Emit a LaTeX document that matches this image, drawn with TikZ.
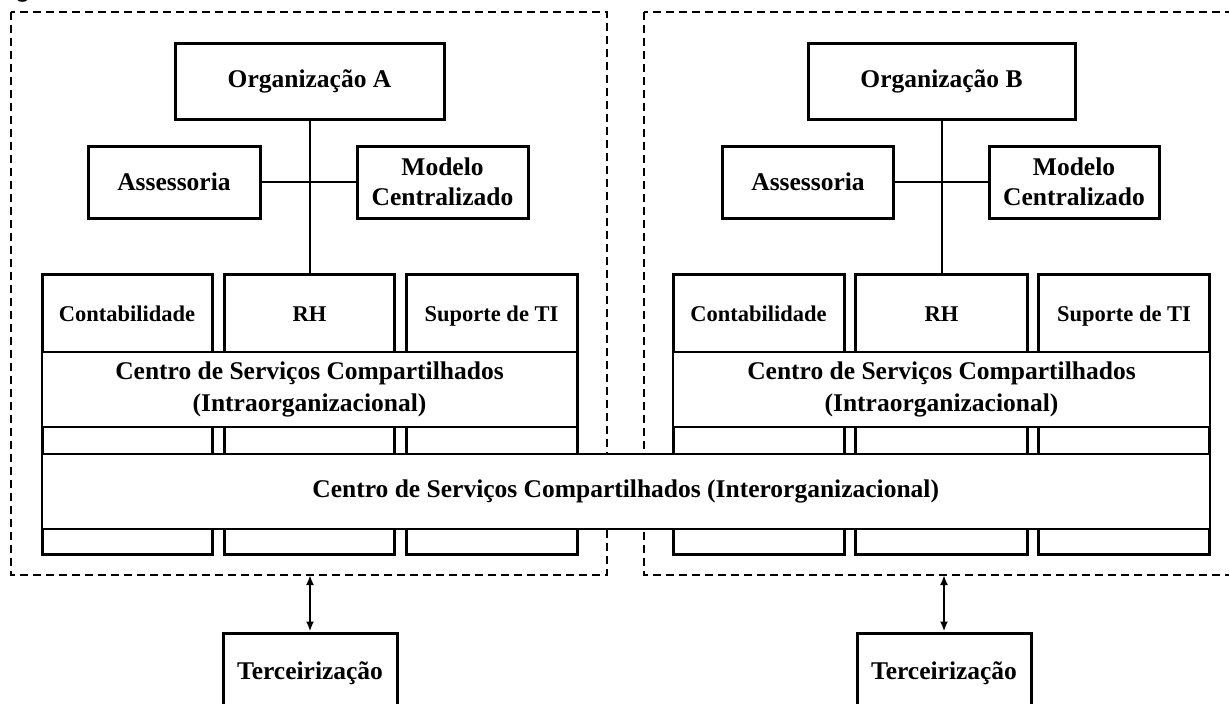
\documentclass[tikz,border=0pt]{standalone}
\usepackage{fontspec}
\setmainfont{Liberation Serif}
\newfontfamily\capfont{Carlito}
\usetikzlibrary{arrows.meta}

\tikzset{
	box/.style = {draw, line width=3pt, fill=white, align=center, inner sep=0pt, font=\bfseries\fontsize{25.5}{30}\selectfont},
	col/.style = {draw, line width=3pt, minimum width=170pt, minimum height=280pt, inner sep=0pt},
	coltext/.style = {anchor=base, inner sep=0pt, font=\bfseries\fontsize{22.5}{26}\selectfont},
	band/.style = {draw, line width=1.6pt, fill=white, minimum height=75pt, align=center, inner sep=0pt, font=\bfseries\fontsize{25.5}{32}\selectfont},
	region/.style = {line width=2pt, dash pattern=on 8pt off 5pt},
	link/.style = {line width=2pt},
	twoway/.style = {line width=2.6pt, {Latex[length=10pt,width=8pt]}-{Latex[length=10pt,width=8pt]}}
}

\begin{document}
\begin{tikzpicture}[x=1pt, y=-1pt]
		\useasboundingbox (0,0) rectangle (1229,704);
		\node[anchor=base west, inner sep=0pt, font=\capfont\fontsize{28}{28}\selectfont] (figcap) at (16,-2) {g};

		% the two organisations
		\draw[region] (11,12) rectangle (607,575);
		\draw[region] (644,12) rectangle (1240,575);

		% organisation A
		\node[box, minimum width=269pt, minimum height=76pt] (orgA) at (309.5,81) {Organização A};
		\node[box, minimum width=172pt, minimum height=72pt] (assA) at (174,182) {Assessoria};
		\node[box, minimum width=171pt, minimum height=72pt] (modA) at (442.5,182) {Modelo\\Centralizado};
		\node[col] (contA) at (127,414) {};
		\node[col] (rhA) at (309.5,414) {};
		\node[col, minimum width=171pt] (supA) at (491.5,414) {};
		\node[coltext] at ([yshift=-49pt]contA.north) {Contabilidade};
		\node[coltext] at ([yshift=-49pt]rhA.north) {RH};
		\node[coltext] at ([yshift=-49pt]supA.north) {Suporte de TI};
		\draw[link] (orgA.south) -- (rhA.north);
		\draw[link] (assA.east) -- (modA.west);
		\node[band, minimum width=535pt] (intraA) at (309.5,389.5) {Centro de Serviços Compartilhados\\(Intraorganizacional)};

		% organisation B
		\node[box, minimum width=267pt, minimum height=76pt] (orgB) at (941.5,81) {Organização B};
		\node[box, minimum width=171pt, minimum height=72pt] (assB) at (808,182) {Assessoria};
		\node[box, minimum width=170pt, minimum height=72pt] (modB) at (1074,182) {Modelo\\Centralizado};
		\node[col, minimum width=171pt] (contB) at (758.5,414) {};
		\node[col, minimum width=172pt] (rhB) at (941.5,414) {};
		\node[col, minimum width=171pt] (supB) at (1124,414) {};
		\node[coltext] at ([yshift=-49pt]contB.north) {Contabilidade};
		\node[coltext] at ([yshift=-49pt]rhB.north) {RH};
		\node[coltext] at ([yshift=-49pt]supB.north) {Suporte de TI};
		\draw[link] (orgB.south) -- (rhB.north);
		\draw[link] (assB.east) -- (modB.west);
		\node[band, minimum width=536pt] (intraB) at (941.5,389.5) {Centro de Serviços Compartilhados\\(Intraorganizacional)};

		% shared between both
		\node[band, minimum width=1167.5pt] (inter) at (625.75,491.5) {Centro de Serviços Compartilhados (Interorganizacional)};

		% outsourcing
		\node[box, minimum width=174pt, minimum height=80pt] (terA) at (310,673) {Terceirização};
		\node[box, minimum width=174pt, minimum height=80pt] (terB) at (944,673) {Terceirização};
		\coordinate (outA) at (310,575);
		\coordinate (outB) at (944,575);
		\draw[twoway] (outA) -- (terA.north);
		\draw[twoway] (outB) -- (terB.north);
	\end{tikzpicture}
\end{document}
